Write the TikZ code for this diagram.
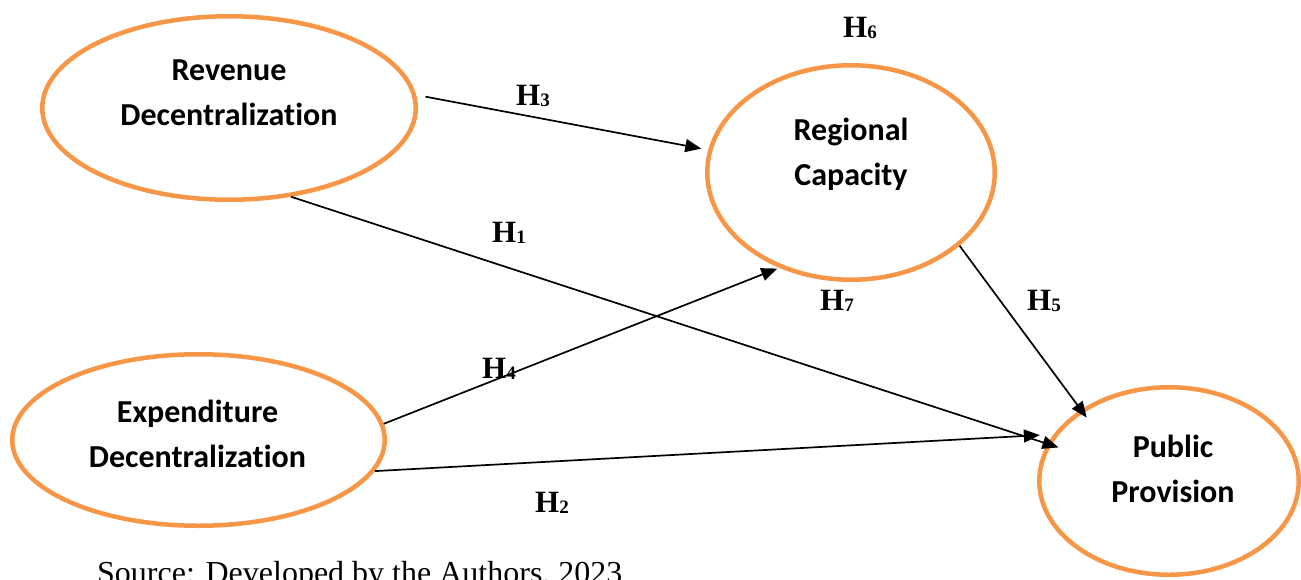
\documentclass[tikz,border=0pt]{standalone}
\usepackage{fontspec}
\setmainfont{Liberation Serif}
\newfontfamily\boxfont[Ligatures=NoCommon]{Carlito}
\usetikzlibrary{shapes.geometric,arrows.meta}
\definecolor{boxorange}{HTML}{F79646}
\tikzset{
  construct/.style={ellipse, draw=boxorange, line width=4.5pt, inner sep=0pt, fill=white},
  ctext/.style={anchor=base, inner sep=0pt, font=\boxfont\bfseries\fontsize{32}{38}\selectfont},
  hyp/.style={anchor=base west, inner sep=0pt, font=\bfseries\fontsize{31}{36}\selectfont},
  link/.style={line width=1.7pt, -{Triangle[length=16pt,width=13pt]}}
}
\newcommand{\hlab}[1]{H\raisebox{-1.5pt}{\fontsize{19}{20}\selectfont #1}}
\begin{document}
\begin{tikzpicture}[x=1pt,y=-1pt]
\useasboundingbox (0,0) rectangle (1301,579);

% constructs
\node[construct, minimum width=373.5pt, minimum height=183.5pt] (rev) at (229,108) {};
\node[construct, minimum width=287.5pt, minimum height=214.5pt] (reg) at (851,172.5) {};
\node[construct, minimum width=372.5pt, minimum height=171.5pt] (exp) at (198.5,440) {};
\node[construct, minimum width=259.5pt, minimum height=187.5pt] (pub) at (1169,481) {};

\node[ctext] (revA) at (229,80) {Revenue};
\node[ctext] (revB) at (229,125) {Decentralization};
\node[ctext] (regA) at (851,140) {Regional};
\node[ctext] (regB) at (851,185) {Capacity};
\node[ctext] (expA) at (197.5,422) {Expenditure};
\node[ctext] (expB) at (197.5,467) {Decentralization};
\node[ctext] (pubA) at (1173,457) {Public};
\node[ctext] (pubB) at (1173,502) {Provision};

% hypothesised paths
\draw[link, shorten <=9.5pt, shorten >=7pt] (rev.4.4) -- (reg.171.4);
\draw[link, shorten >=-11.7pt] (rev.-55.5) -- (pub.163.6);
\draw[link, shorten >=2pt] (exp.5.3) -- (reg.233.4);
\draw[link, shorten >=13.8pt] (exp.-10.7) -- (pub.158);
\draw[link, shorten >=-10pt] (reg.-34.5) -- (pub.141.4);

% hypothesis labels
\node[hyp] (h6) at (843,37) {\hlab{6}};
\node[hyp] (h3) at (516,105) {\hlab{3}};
\node[hyp] (h1) at (492,242) {\hlab{1}};
\node[hyp] (h4) at (482,378) {\hlab{4}};
\node[hyp] (h7) at (820,310) {\hlab{7}};
\node[hyp] (h5) at (1027,310) {\hlab{5}};
\node[hyp] (h2) at (535,512) {\hlab{2}};

% source note
\node[anchor=base west, inner sep=0pt, font=\fontsize{32}{36}\selectfont] (src) at (97,583) {Source: Developed by the Authors, 2023};
\end{tikzpicture}
\end{document}
